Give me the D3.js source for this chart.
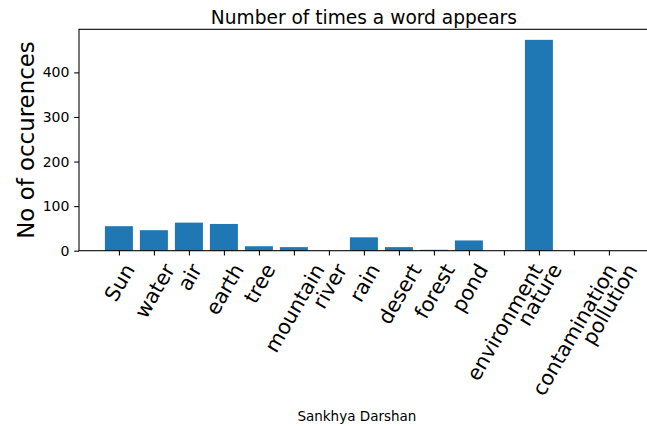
<!DOCTYPE html>
<html>
<head>
<meta charset="utf-8">
<script src="https://cdn.jsdelivr.net/npm/d3@7"></script>
<style>
  html, body { margin: 0; padding: 0; background: #fff; }
  svg { display: block; }
  text { font-family: "DejaVu Sans", sans-serif; fill: #000; }
</style>
</head>
<body>
<svg id="chart" width="647" height="426"></svg>
<script>
const categories = ["Sun", "water", "air", "earth", "tree", "mountain", "river", "rain",
  "desert", "forest", "pond", "environment", "nature", "contamination", "pollution"];
const counts = [55, 46, 63, 60, 10, 8, 0, 30, 8, 2, 23, 0, 473, 0, 0];
const yTicks = [0, 100, 200, 300, 400];
const title = "Number of times a word appears";
const xLabel = "Sankhya Darshan";
const yLabel = "No of occurences";

const W = 647, H = 426;
const plot = { left: 79, top: 29.3, bottom: 250.7 };
const pxPerUnit = 35;
const n = categories.length;
const barW = 0.8;
const margin = 0.05 * ((n - 1) + barW);
const xMin = -barW / 2 - margin, xMax = (n - 1) + barW / 2 + margin;
plot.right = plot.left + (xMax - xMin) * pxPerUnit;

const svg = d3.select("#chart");

const x = d3.scaleLinear().domain([xMin, xMax]).range([plot.left, plot.right]);
const yMax = d3.max(counts) * 1.05;
const y = d3.scaleLinear().domain([0, yMax]).range([plot.bottom, plot.top]);

// bars
svg.append("g").selectAll("rect").data(counts).join("rect")
  .attr("x", (d, i) => x(i - barW / 2))
  .attr("width", (d, i) => x(i + barW / 2) - x(i - barW / 2))
  .attr("y", d => y(d))
  .attr("height", d => y(0) - y(d))
  .attr("fill", "#1f77b4");

// frame
svg.append("rect")
  .attr("x", plot.left).attr("y", plot.top)
  .attr("width", plot.right - plot.left).attr("height", plot.bottom - plot.top)
  .attr("fill", "none").attr("stroke", "#000").attr("stroke-width", 1.07);

// y axis
const yAxis = d3.axisLeft(y).tickValues(yTicks).tickSize(4.8).tickPadding(4.8).tickFormat(d3.format("d"));
const gy = svg.append("g").attr("transform", `translate(${plot.left},0)`).call(yAxis);
gy.select(".domain").remove();
gy.selectAll(".tick line").attr("stroke", "#000").attr("stroke-width", 1.07);
gy.selectAll(".tick text").style("font-family", "DejaVu Sans").style("font-size", "14px").attr("fill", "#000");

// x axis
const xAxis = d3.axisBottom(x).tickValues(d3.range(n)).tickSize(4.8).tickFormat(i => categories[i]);
const gx = svg.append("g").attr("transform", `translate(0,${plot.bottom})`).call(xAxis);
gx.select(".domain").remove();
gx.selectAll(".tick line").attr("stroke", "#000").attr("stroke-width", 1.07);
const xfs = 20.5;
const ang = 60 * Math.PI / 180;
const labelTop = 4.8 + 4.0;
gx.selectAll(".tick text").each(function () {
  const t = d3.select(this);
  t.style("font-family", "DejaVu Sans").style("font-size", xfs + "px")
   .attr("fill", "#000").attr("text-anchor", "middle").attr("y", 0).attr("dy", "0.36em");
  const w = this.getComputedTextLength();
  const h = 1.17 * xfs;
  const bh = w * Math.sin(ang) + h * Math.cos(ang);
  t.attr("transform", `translate(0,${labelTop + bh / 2}) rotate(-60)`);
});

// title
svg.append("text")
  .attr("x", (plot.left + plot.right) / 2).attr("y", 23.8)
  .attr("text-anchor", "middle").style("font-size", "18.6px")
  .text(title);

// x label
svg.append("text")
  .attr("x", (plot.left + plot.right) / 2 - 7).attr("y", 420.5)
  .attr("text-anchor", "middle").style("font-size", "13.5px")
  .text(xLabel);

// y label
svg.append("text")
  .attr("transform", `translate(33.5,${(plot.top + plot.bottom) / 2}) rotate(-90)`)
  .attr("text-anchor", "middle").style("font-size", "22.9px")
  .text(yLabel);
</script>
</body>
</html>
